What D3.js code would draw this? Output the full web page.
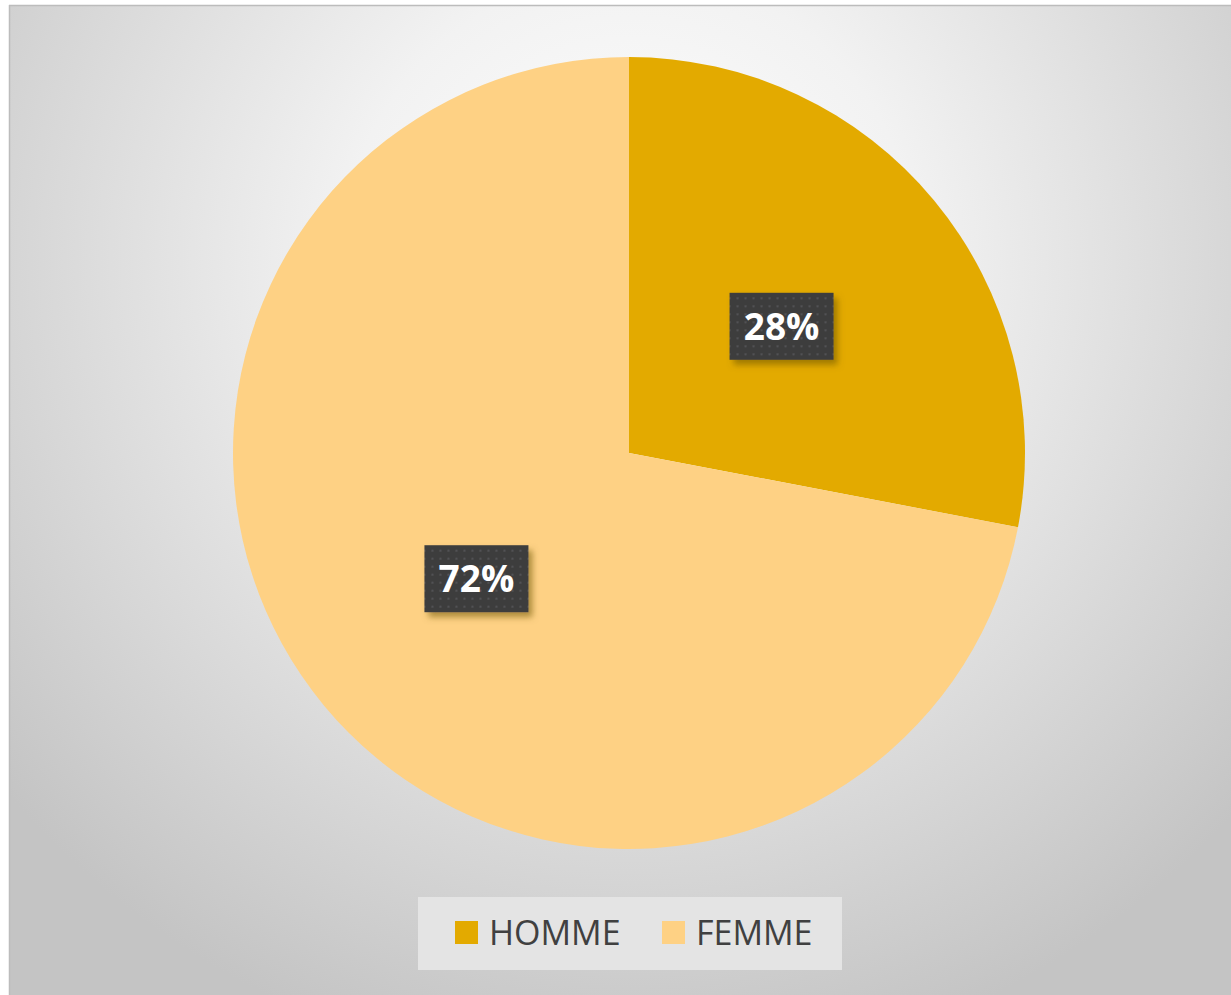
<!DOCTYPE html>
<html>
<head>
<meta charset="utf-8">
<title>HOMME / FEMME</title>
<script src="https://cdn.jsdelivr.net/npm/d3@7"></script>
<style>
  body { margin: 0; background: #fff; }
</style>
</head>
<body>
<script>
  var width = 1231;
  var height = 995;

  // data
  var categories = ["HOMME", "FEMME"];
  var values = [28, 72];
  var colors = ["#e3aa00", "#fed184"];

  var cx = 629, cy = 453, radius = 396;

  var svg = d3.select("body").append("svg")
      .attr("width", width).attr("height", height);

  var defs = svg.append("defs");

  // background gradient
  var grad = defs.append("radialGradient")
      .attr("id", "bg")
      .attr("gradientUnits", "userSpaceOnUse")
      .attr("cx", 630).attr("cy", 260).attr("r", 820);
  grad.append("stop").attr("offset", "0%").attr("stop-color", "#ffffff");
  grad.append("stop").attr("offset", "35%").attr("stop-color", "#f2f2f2");
  grad.append("stop").attr("offset", "100%").attr("stop-color", "#c4c4c4");

  // shadow for the labels
  var f = defs.append("filter").attr("id", "shadow")
      .attr("x", "-20%").attr("y", "-20%").attr("width", "150%").attr("height", "160%");
  f.append("feDropShadow")
      .attr("dx", 4).attr("dy", 5).attr("stdDeviation", 3)
      .attr("flood-color", "#6b5200").attr("flood-opacity", 0.55);

  // dotted pattern for the label boxes
  var pat = defs.append("pattern").attr("id", "dots")
      .attr("patternUnits", "userSpaceOnUse").attr("width", 8).attr("height", 8);
  pat.append("rect").attr("width", 8).attr("height", 8).attr("fill", "#3e3e3e");
  pat.append("circle").attr("cx", 4).attr("cy", 4).attr("r", 0.9).attr("fill", "#5a5a5e");

  // frame
  svg.append("rect")
      .attr("x", 9).attr("y", 5)
      .attr("width", width - 9).attr("height", height - 5)
      .attr("fill", "url(#bg)");
  svg.append("line").attr("x1", 9).attr("y1", 5.5).attr("x2", width).attr("y2", 5.5)
      .attr("stroke", "#bcbcbc").attr("stroke-width", 1.5);
  svg.append("line").attr("x1", 9.5).attr("y1", 5).attr("x2", 9.5).attr("y2", height)
      .attr("stroke", "#bcbcbc").attr("stroke-width", 1.5);

  // pie
  var pie = d3.pie().sort(null).value(function (d) { return d; });
  var arc = d3.arc().innerRadius(0).outerRadius(radius);
  var arcs = pie(values);

  var g = svg.append("g").attr("transform", "translate(" + cx + "," + cy + ")");
  g.selectAll("path")
      .data(arcs)
      .enter()
      .append("path")
      .attr("d", arc)
      .attr("fill", function (d, i) { return colors[i]; });

  // labels
  var labels = g.selectAll("g.lab")
      .data(arcs)
      .enter()
      .append("g")
      .attr("class", "lab")
      .attr("transform", function (d) {
          var c = arc.centroid(d);
          return "translate(" + c[0] + "," + (c[1] - 0.5) + ")";
      });
  labels.append("rect")
      .attr("x", -52).attr("y", -33.5)
      .attr("width", 104).attr("height", 67)
      .attr("fill", "url(#dots)")
      .attr("filter", "url(#shadow)");
  labels.append("text")
      .attr("text-anchor", "middle")
      .attr("dy", "0.36em")
      .attr("fill", "#ffffff")
      .attr("font-family", "Open Sans, sans-serif")
      .attr("font-weight", "bold")
      .attr("font-size", "37px")
      .text(function (d) { return d.data + "%"; });

  // legend
  var legend = svg.append("g");
  legend.append("rect")
      .attr("x", 418).attr("y", 897)
      .attr("width", 424).attr("height", 73)
      .attr("fill", "#e4e4e4");

  var legendX = d3.scaleOrdinal().domain(categories).range([455, 662]);
  var items = legend.selectAll("g.item")
      .data(categories)
      .enter()
      .append("g")
      .attr("class", "item")
      .attr("transform", function (d) { return "translate(" + legendX(d) + ",921)"; });
  items.append("rect")
      .attr("width", 23).attr("height", 23)
      .attr("fill", function (d, i) { return colors[i]; });
  items.append("text")
      .attr("x", 34).attr("y", 24)
      .attr("fill", "#404040")
      .attr("font-family", "Open Sans, sans-serif")
      .attr("font-size", "34px")
      .text(function (d) { return d; });
</script>
</body>
</html>
